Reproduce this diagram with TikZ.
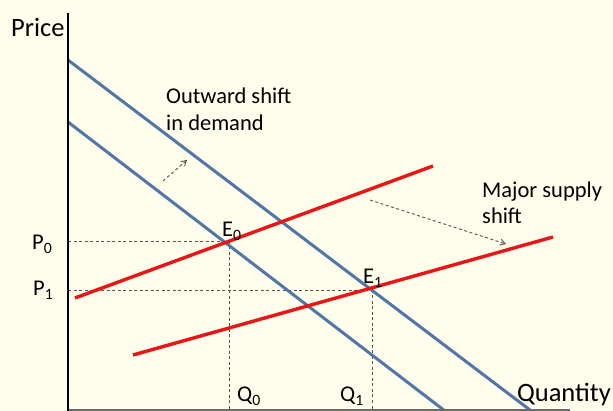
\documentclass[tikz,border=0pt]{standalone}
\usepackage{fontspec}
\setmainfont{Carlito}
\usetikzlibrary{arrows.meta}
\definecolor{bg}{RGB}{255,253,235}
\definecolor{dblue}{RGB}{82,118,168}
\definecolor{sred}{RGB}{232,22,22}
\definecolor{dashgray}{RGB}{90,80,80}
\newcommand{\sbs}[1]{\textsubscript{#1}}
\begin{document}
\begin{tikzpicture}[x=1pt,y=-1pt,
  demand/.style={draw=dblue,line width=3pt},
  supply/.style={draw=sred,line width=3.4pt},
  guide/.style={draw=dashgray,line width=0.9pt,dash pattern=on 3pt off 2.5pt},
  shiftarrow/.style={draw=dashgray,line width=0.9pt,dash pattern=on 3pt off 2.5pt,-{Straight Barb[length=5pt,width=6pt]}},
  lbl/.style={font=\fontsize{22.5}{26}\selectfont,text=black,inner sep=0pt},
  axlbl/.style={font=\fontsize{26.5}{30}\selectfont,text=black,inner sep=0pt}]
\fill[bg] (0,0) rectangle (613,411);
\useasboundingbox (0,0) rectangle (613,411);
% coordinates
\coordinate (ytop) at (68,13);
\coordinate (orig) at (68,411);
\coordinate (xend) at (570,410);
\coordinate (d1a) at (68,60);
\coordinate (d1b) at (530,410);
\coordinate (d0a) at (68,122);
\coordinate (d0b) at (445,411);
\coordinate (s0a) at (75,298);
\coordinate (s0b) at (433,166);
\coordinate (s1a) at (133,355);
\coordinate (s1b) at (553,237);
\coordinate (E0) at (229,241);
\coordinate (E1) at (372,290);
\coordinate (p0) at (68,241);
\coordinate (p1) at (68,290);
\coordinate (q0) at (229,411);
\coordinate (q1) at (372,411);
% guides
\draw[guide] (p0) -- (E0);
\draw[guide] (p1) -- (E1);
\draw[guide] (E0) -- (q0);
\draw[guide] (E1) -- (q1);
% curves
\draw[demand] (d1a) -- (d1b);
\draw[demand] (d0a) -- (d0b);
\draw[supply] (s0a) -- (s0b);
\draw[supply] (s1a) -- (s1b);
% axes
\draw[draw=gray!85!black,line width=2pt] (orig) ++(0,-1) -- (xend);
\draw[line width=2.4pt] (ytop) -- (orig);
% arrows
\coordinate (da0) at (163,181);
\coordinate (da1) at (187,160);
\draw[shiftarrow] (da0) -- (da1);
\coordinate (sa0) at (370,200);
\coordinate (sa1) at (506,244);
\draw[shiftarrow] (sa0) -- (sa1);
% labels
\node[axlbl,anchor=base west] (price) at (11,37) {Price};
\node[axlbl,anchor=base east] (qty) at (611,401) {Quantity};
\node[lbl,anchor=base west] (P0) at (32,250) {P\sbs{0}};
\node[lbl,anchor=base west] (P1) at (33,296) {P\sbs{1}};
\node[lbl,anchor=base west] (E0l) at (222,237) {E\sbs{0}};
\node[lbl,anchor=base west] (E1l) at (363,284) {E\sbs{1}};
\node[lbl,anchor=base west] (Q0) at (237,402) {Q\sbs{0}};
\node[lbl,anchor=base west] (Q1) at (340,402) {Q\sbs{1}};
\node[lbl,anchor=base west] (dem) at (166,104) {Outward shift};
\node[lbl,anchor=base west] (dem2) at (166,131) {in demand};
\node[lbl,anchor=base west] (sup) at (482,198) {Major supply};
\node[lbl,anchor=base west] (sup2) at (482,224) {shift};
\end{tikzpicture}
\end{document}
